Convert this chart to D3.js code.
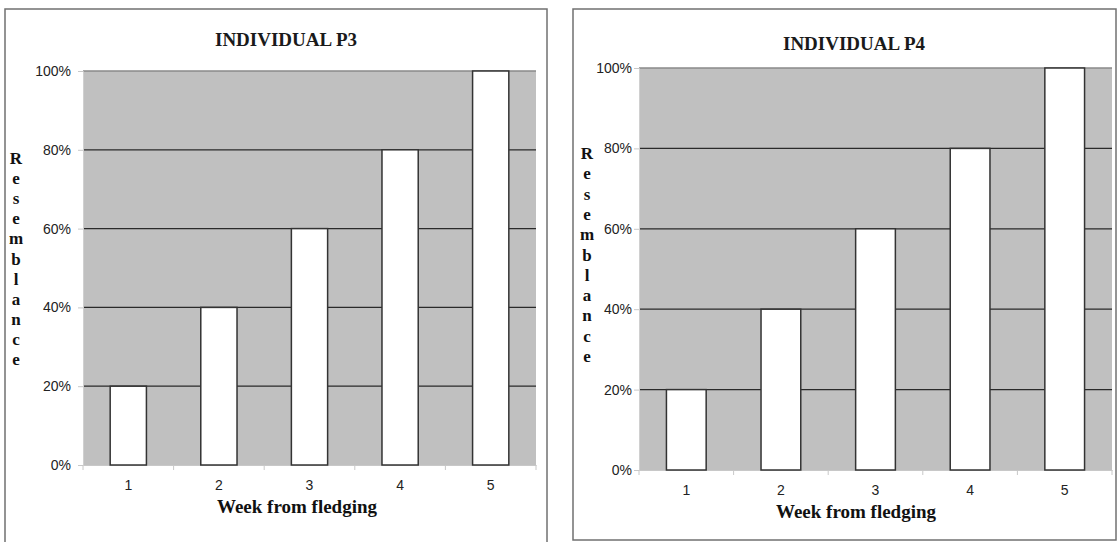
<!DOCTYPE html>
<html>
<head>
<meta charset="utf-8">
<script src="https://cdn.jsdelivr.net/npm/d3@7"></script>
<style>
  html, body { margin: 0; padding: 0; background: #ffffff; }
  svg { display: block; }
</style>
</head>
<body>
<svg id="chart" width="1118" height="542"></svg>
<script>
// Weeks after fledging and resemblance share for each individual
const weeks = ["1", "2", "3", "4", "5"];
const p3Values = [20, 40, 60, 80, 100];
const p4Values = [20, 40, 60, 80, 100];
const yTicks = [0, 20, 40, 60, 80, 100];
const titles = ["INDIVIDUAL P3", "INDIVIDUAL P4"];
const xTitle = "Week from fledging";
const yTitle = "Resemblance";

const svg = d3.select("#chart");

// Layout for the two side-by-side panels
const panels = [
  {
    title: titles[0], values: p3Values,
    box: { x: 5, y: 9, w: 542, h: 540 },
    plot: { l: 83, r: 536, t: 71, b: 465 },
    pad: 0.6,
    titlePos: [286, 46],
    xTitlePos: [297, 513],
    yTitlePos: { x: 16, y0: 164, step: 20.1 },
    labelGap: 12
  },
  {
    title: titles[1], values: p4Values,
    box: { x: 573, y: 9, w: 543, h: 531 },
    plot: { l: 639, r: 1112, t: 68, b: 470 },
    pad: 0.58,
    titlePos: [854, 50],
    xTitlePos: [856, 518],
    yTitlePos: { x: 587, y0: 159, step: 20.3 },
    labelGap: 7
  }
];

panels.forEach(p => {
  const g = svg.append("g");

  // panel frame
  g.append("rect")
    .attr("x", p.box.x).attr("y", p.box.y)
    .attr("width", p.box.w).attr("height", p.box.h)
    .attr("fill", "#ffffff")
    .attr("stroke", "#707070").attr("stroke-width", 1.5);

  const x = d3.scaleBand()
    .domain(weeks)
    .range([p.plot.l, p.plot.r])
    .paddingInner(p.pad)
    .paddingOuter(p.pad / 2);

  const y = d3.scaleLinear()
    .domain([0, 100])
    .range([p.plot.b, p.plot.t]);

  // grey plot area
  g.append("rect")
    .attr("x", p.plot.l).attr("y", p.plot.t)
    .attr("width", p.plot.r - p.plot.l).attr("height", p.plot.b - p.plot.t)
    .attr("fill", "#c0c0c0");

  // horizontal gridlines
  g.selectAll("line.grid")
    .data(yTicks.filter(v => v > 0))
    .join("line")
    .attr("class", "grid")
    .attr("x1", p.plot.l).attr("x2", p.plot.r)
    .attr("y1", d => y(d)).attr("y2", d => y(d))
    .attr("stroke", d => d === 100 ? "#8a8a8a" : "#2a2a2a")
    .attr("stroke-width", d => d === 100 ? 1.5 : 1.2);

  // y axis
  const yAxis = d3.axisLeft(y)
    .tickValues(yTicks)
    .tickSize(5)
    .tickPadding(p.labelGap - 5)
    .tickFormat(d => d + "%");
  const ya = g.append("g")
    .attr("transform", `translate(${p.plot.l},0)`)
    .call(yAxis);
  ya.select(".domain").attr("stroke", "#d0d0d0");
  ya.selectAll(".tick line").attr("stroke", "#c8c8c8");
  ya.selectAll(".tick text")
    .attr("font-family", "Liberation Sans, Arial, sans-serif")
    .attr("font-size", 14)
    .attr("fill", "#222222");

  // x axis: labels centred under bars, ticks at category boundaries
  const xAxis = d3.axisBottom(x).tickSize(0).tickPadding(15);
  const xa = g.append("g")
    .attr("transform", `translate(0,${p.plot.b})`)
    .call(xAxis);
  xa.select(".domain").attr("stroke", "#c8c8c8").attr("stroke-width", 1.2);
  xa.selectAll(".tick text")
    .attr("font-family", "Liberation Sans, Arial, sans-serif")
    .attr("font-size", 14)
    .attr("fill", "#222222");
  const bounds = weeks.map(w => x(w) - x.step() * p.pad / 2).concat([p.plot.r]);
  g.selectAll("line.xtick")
    .data(bounds)
    .join("line")
    .attr("class", "xtick")
    .attr("x1", d => d).attr("x2", d => d)
    .attr("y1", p.plot.b).attr("y2", p.plot.b + 5)
    .attr("stroke", "#c8c8c8");

  // bars
  g.selectAll("rect.bar")
    .data(p.values)
    .join("rect")
    .attr("class", "bar")
    .attr("x", (d, i) => x(weeks[i]))
    .attr("y", d => y(d))
    .attr("width", x.bandwidth())
    .attr("height", d => y(0) - y(d))
    .attr("fill", "#ffffff")
    .attr("stroke", "#333333")
    .attr("stroke-width", 1.5);

  // chart title
  g.append("text")
    .attr("x", p.titlePos[0]).attr("y", p.titlePos[1])
    .attr("text-anchor", "middle")
    .attr("font-family", "Liberation Serif, Times New Roman, serif")
    .attr("font-weight", "bold")
    .attr("font-size", 19)
    .attr("fill", "#1a1a1a")
    .text(p.title);

  // x axis title
  g.append("text")
    .attr("x", p.xTitlePos[0]).attr("y", p.xTitlePos[1])
    .attr("text-anchor", "middle")
    .attr("font-family", "Liberation Serif, Times New Roman, serif")
    .attr("font-weight", "bold")
    .attr("font-size", 19)
    .attr("fill", "#111111")
    .text(xTitle);

  // stacked vertical y axis title
  g.selectAll("text.ylet")
    .data(yTitle.split(""))
    .join("text")
    .attr("class", "ylet")
    .attr("x", p.yTitlePos.x)
    .attr("y", (d, i) => p.yTitlePos.y0 + i * p.yTitlePos.step)
    .attr("text-anchor", "middle")
    .attr("font-family", "Liberation Serif, Times New Roman, serif")
    .attr("font-weight", "bold")
    .attr("font-size", 17)
    .attr("fill", "#111111")
    .text(d => d);
});
</script>
</body>
</html>
